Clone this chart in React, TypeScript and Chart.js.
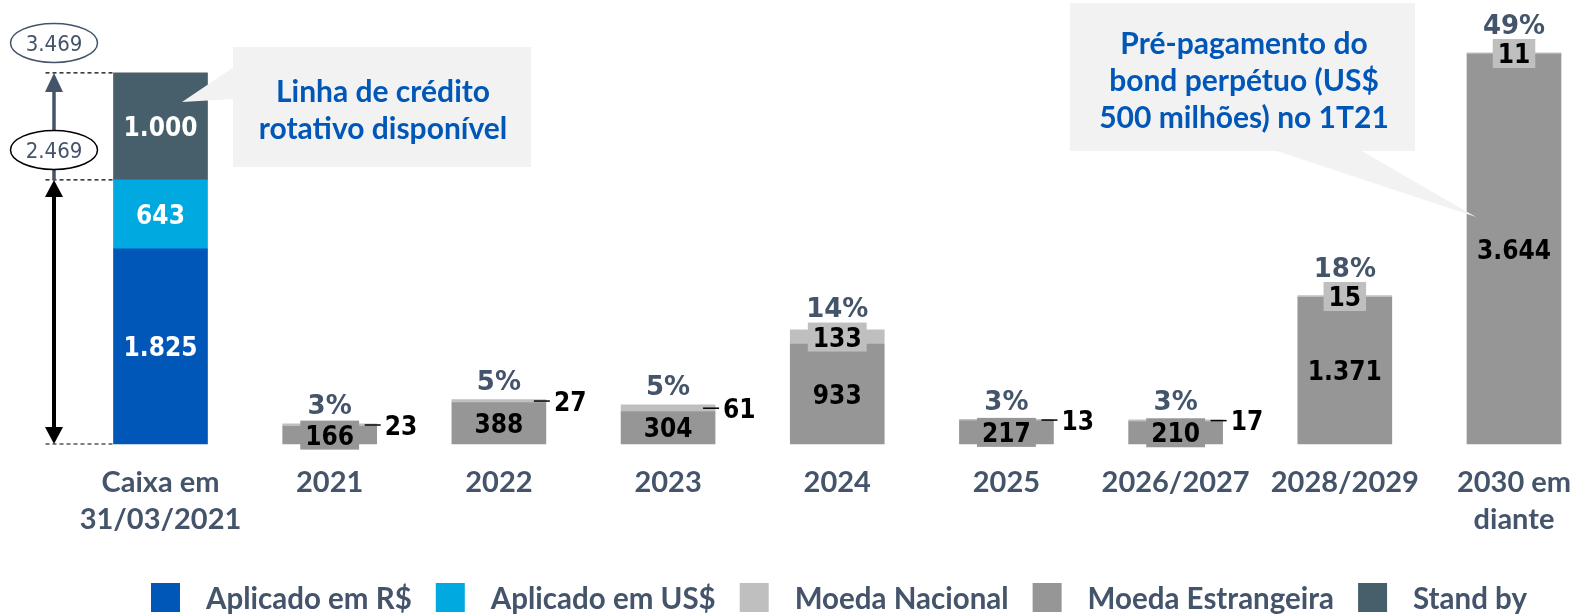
import React, { useEffect, useRef } from 'react';
import { Chart, registerables } from 'chart.js';

Chart.register(...registerables);

// ---------- data ----------
const categories: (string | string[])[] = [
  ['Caixa em', '31/03/2021'],
  '2021',
  '2022',
  '2023',
  '2024',
  '2025',
  '2026/2027',
  '2028/2029',
  ['2030 em', 'diante'],
];
const aplicadoRS = [1825, null, null, null, null, null, null, null, null];
const aplicadoUS = [643, null, null, null, null, null, null, null, null];
const standBy = [1000, null, null, null, null, null, null, null, null];
const moedaEstrangeira = [null, 166, 388, 304, 933, 217, 210, 1371, 3644];
const moedaNacional = [null, 23, 27, 61, 133, 13, 17, 15, 11];
const percentLabels = [null, '3%', '5%', '5%', '14%', '3%', '3%', '18%', '49%'];
const caixaMarkLabels = ['2.469', '3.469'];
const callout1Lines = ['Linha de crédito', 'rotativo disponível'];
const callout2Lines = ['Pré-pagamento do', 'bond perpétuo (US$', '500 milhões) no 1T21'];
const legendLabels = ['Aplicado em R$', 'Aplicado em US$', 'Moeda Nacional', 'Moeda Estrangeira', 'Stand by'];

// ---------- styles ----------
const C_RS = '#0057B8';
const C_US = '#00A9E0';
const C_SB = '#475F6B';
const C_NAC = '#BFBFBF';
const C_EST = '#969696';
const C_SLATE = '#44546A';
const C_CALLOUT = '#F2F2F2';
const C_BLUE_TXT = '#0057B8';
const legendColors = [C_RS, C_US, C_NAC, C_EST, C_SB];

const VAL_FONT = 'bold 26px "DejaVu Sans Condensed"';
const PCT_FONT = 'bold 26px "DejaVu Sans"';
const CALLOUT_FONT = 'bold 30px Lato';
const LEGEND_FONT = 'bold 29.5px Lato';

const fmt = (v: number) => String(v).replace(/\B(?=(\d{3})+(?!\d))/g, '.');

function textAt(ctx: CanvasRenderingContext2D, t: string, x: number, cy: number, font: string, color: string, align: CanvasTextAlign, cap: number) {
  ctx.font = font;
  ctx.fillStyle = color;
  ctx.textAlign = align;
  ctx.textBaseline = 'alphabetic';
  ctx.fillText(t, x, cy + cap / 2);
}

const annotationPlugin = {
  id: 'annotations',
  afterDatasetsDraw(chart: any) {
    const ctx: CanvasRenderingContext2D = chart.ctx;
    const ys = chart.scales.y;
    ctx.save();

    // ---- Caixa bar labels ----
    const caixaSets: [number, (number | null)[]][] = [[0, aplicadoRS], [1, aplicadoUS], [4, standBy]];
    caixaSets.forEach(([di, arr]) => {
      const el = chart.getDatasetMeta(di).data[0];
      const v = arr[0];
      if (v == null) return;
      textAt(ctx, fmt(v), el.x, (el.y + el.base) / 2, VAL_FONT, '#FFFFFF', 'center', 19);
    });

    // ---- debt bars labels ----
    const mE = chart.getDatasetMeta(2);
    const mN = chart.getDatasetMeta(3);
    for (let i = 0; i < categories.length; i++) {
      const ve = moedaEstrangeira[i];
      const vn = moedaNacional[i];
      if (ve == null || vn == null) continue;
      const e = mE.data[i];
      const n = mN.data[i];
      const right = e.x + e.width / 2;
      ctx.font = VAL_FONT;
      const te = fmt(ve);
      const we = ctx.measureText(te).width;
      const cyE = (e.y + e.base) / 2;
      ctx.fillStyle = C_EST;
      ctx.fillRect(e.x - we / 2 - 5, cyE - 14.5, we + 10, 29);
      textAt(ctx, te, e.x, cyE, VAL_FONT, '#000000', 'center', 19);

      const boxed = e.base - e.y > 60;
      const tn = fmt(vn);
      const cyN = (n.y + n.base) / 2;
      let pctCy: number;
      if (boxed) {
        ctx.font = VAL_FONT;
        const wn = ctx.measureText(tn).width;
        ctx.fillStyle = C_NAC;
        ctx.fillRect(n.x - wn / 2 - 5, cyN - 14.5, wn + 10, 29);
        textAt(ctx, tn, n.x, cyN, VAL_FONT, '#000000', 'center', 19);
        pctCy = cyN - 14.5 - 15;
      } else {
        ctx.strokeStyle = '#000000';
        ctx.lineWidth = 1.5;
        ctx.beginPath();
        ctx.moveTo(right - 12, cyN);
        ctx.lineTo(right + 4, cyN);
        ctx.stroke();
        textAt(ctx, tn, right + 8, cyN, VAL_FONT, '#000000', 'left', 19);
        pctCy = n.y - 19;
      }
      const p = percentLabels[i];
      if (p) textAt(ctx, p, e.x, pctCy, PCT_FONT, C_SLATE, 'center', 19);
    }

    // ---- left arrows / marks ----
    const b0 = chart.getDatasetMeta(0).data[0];
    const left = b0.x - b0.width / 2;
    const yTop = ys.getPixelForValue((aplicadoRS[0] || 0) + (aplicadoUS[0] || 0) + (standBy[0] || 0));
    const yMid = ys.getPixelForValue((aplicadoRS[0] || 0) + (aplicadoUS[0] || 0));
    const yBase = ys.getPixelForValue(0);
    const ax = left - 59.5;

    ctx.strokeStyle = '#000000';
    ctx.lineWidth = 1.2;
    ctx.setLineDash([4, 3]);
    [yTop, yMid, yBase].forEach((yy) => {
      ctx.beginPath();
      ctx.moveTo(ax - 8.5, yy);
      ctx.lineTo(left, yy);
      ctx.stroke();
    });
    ctx.setLineDash([]);

    // slate arrow up
    ctx.strokeStyle = C_SLATE;
    ctx.fillStyle = C_SLATE;
    ctx.lineWidth = 3.5;
    ctx.beginPath();
    ctx.moveTo(ax, yMid);
    ctx.lineTo(ax, yTop + 16);
    ctx.stroke();
    ctx.beginPath();
    ctx.moveTo(ax, yTop);
    ctx.lineTo(ax - 9, yTop + 19);
    ctx.lineTo(ax + 9, yTop + 19);
    ctx.closePath();
    ctx.fill();

    // black double arrow
    ctx.strokeStyle = '#000000';
    ctx.fillStyle = '#000000';
    ctx.lineWidth = 4;
    ctx.beginPath();
    ctx.moveTo(ax, yMid + 14);
    ctx.lineTo(ax, yBase - 14);
    ctx.stroke();
    ctx.beginPath();
    ctx.moveTo(ax, yMid);
    ctx.lineTo(ax - 9, yMid + 17);
    ctx.lineTo(ax + 9, yMid + 17);
    ctx.closePath();
    ctx.fill();
    ctx.beginPath();
    ctx.moveTo(ax, yBase);
    ctx.lineTo(ax - 9, yBase - 17);
    ctx.lineTo(ax + 9, yBase - 17);
    ctx.closePath();
    ctx.fill();

    // ellipses
    const ells: [number, string, string][] = [
      [yTop - 30, caixaMarkLabels[1], C_SLATE],
      [yMid - 30, caixaMarkLabels[0], '#000000'],
    ];
    ells.forEach(([cy, t, stroke]) => {
      ctx.beginPath();
      ctx.ellipse(ax, cy, 43.5, 19.5, 0, 0, Math.PI * 2);
      ctx.fillStyle = '#FFFFFF';
      ctx.fill();
      ctx.strokeStyle = stroke;
      ctx.lineWidth = 1.5;
      ctx.stroke();
      textAt(ctx, t, ax, cy, '22px "DejaVu Sans Condensed"', C_SLATE, 'center', 16);
    });

    // ---- callout 1 ----
    ctx.fillStyle = C_CALLOUT;
    ctx.fillRect(233, 47, 298, 120);
    ctx.beginPath();
    ctx.moveTo(234, 67);
    ctx.lineTo(182, 102);
    ctx.lineTo(234, 99);
    ctx.closePath();
    ctx.fill();
    callout1Lines.forEach((t, k) => textAt(ctx, t, 383, 91 + k * 37, CALLOUT_FONT, C_BLUE_TXT, 'center', 21));

    // ---- callout 2 ----
    const b8 = chart.getDatasetMeta(2).data[8];
    const tipX = b8.x - b8.width / 2 + 9;
    ctx.fillStyle = C_CALLOUT;
    ctx.fillRect(1070, 3, 345, 148);
    ctx.beginPath();
    ctx.moveTo(1274, 150);
    ctx.lineTo(tipX, 217);
    ctx.lineTo(1360, 150);
    ctx.closePath();
    ctx.fill();
    callout2Lines.forEach((t, k) => textAt(ctx, t, 1244, 43 + k * 37, CALLOUT_FONT, C_BLUE_TXT, 'center', 21));

    ctx.restore();
  },
  afterDraw(chart: any) {
    const ctx: CanvasRenderingContext2D = chart.ctx;
    ctx.save();
    let x = 151;
    legendLabels.forEach((t, k) => {
      ctx.fillStyle = legendColors[k];
      ctx.fillRect(x, 583, 29, 29);
      ctx.font = LEGEND_FONT;
      const w = ctx.measureText(t).width;
      textAt(ctx, t, x + 55, 598.5, LEGEND_FONT, C_SLATE, 'left', 21);
      x += 55 + w + 24;
    });
    ctx.restore();
  },
};

export default function App() {
  const ref = useRef<HTMLCanvasElement | null>(null);
  useEffect(() => {
    if (!ref.current) return;
    const common = { barThickness: 94, clip: false as const, borderWidth: 0 };
    const chart = new Chart(ref.current, {
      type: 'bar',
      data: {
        labels: categories as any,
        datasets: [
          { label: 'Aplicado em R$', data: aplicadoRS, backgroundColor: C_RS, ...common },
          { label: 'Aplicado em US$', data: aplicadoUS, backgroundColor: C_US, ...common },
          { label: 'Moeda Estrangeira', data: moedaEstrangeira, backgroundColor: C_EST, ...common },
          { label: 'Moeda Nacional', data: moedaNacional, backgroundColor: C_NAC, ...common },
          { label: 'Stand by', data: standBy, backgroundColor: C_SB, ...common },
        ] as any,
      },
      options: {
        animation: false,
        responsive: false,
        layout: { padding: { left: 160.5, right: 64, top: 16, bottom: 76 } },
        plugins: { legend: { display: false }, tooltip: { enabled: false } },
        scales: {
          x: {
            stacked: true,
            offset: false,
            grid: { display: false, drawTicks: false },
            border: { display: false },
            ticks: {
              autoSkip: false,
              maxRotation: 0,
              minRotation: 0,
              padding: 20,
              color: C_SLATE,
              font: { family: 'Lato', weight: 'bold', size: 29, lineHeight: 1.275 },
            },
            afterFit: (s: any) => {
              s.height = 94;
              s.paddingLeft = 0;
              s.paddingRight = 0;
            },
          },
          y: { stacked: true, display: false, min: 0, max: 4000 },
        },
      },
      plugins: [annotationPlugin],
    });
    return () => chart.destroy();
  }, []);
  return (
    <canvas
      ref={ref}
      width={1578}
      height={614}
      style={{ display: 'block', position: 'fixed', left: 0, top: 0, background: '#FFFFFF' }}
    />
  );
}
